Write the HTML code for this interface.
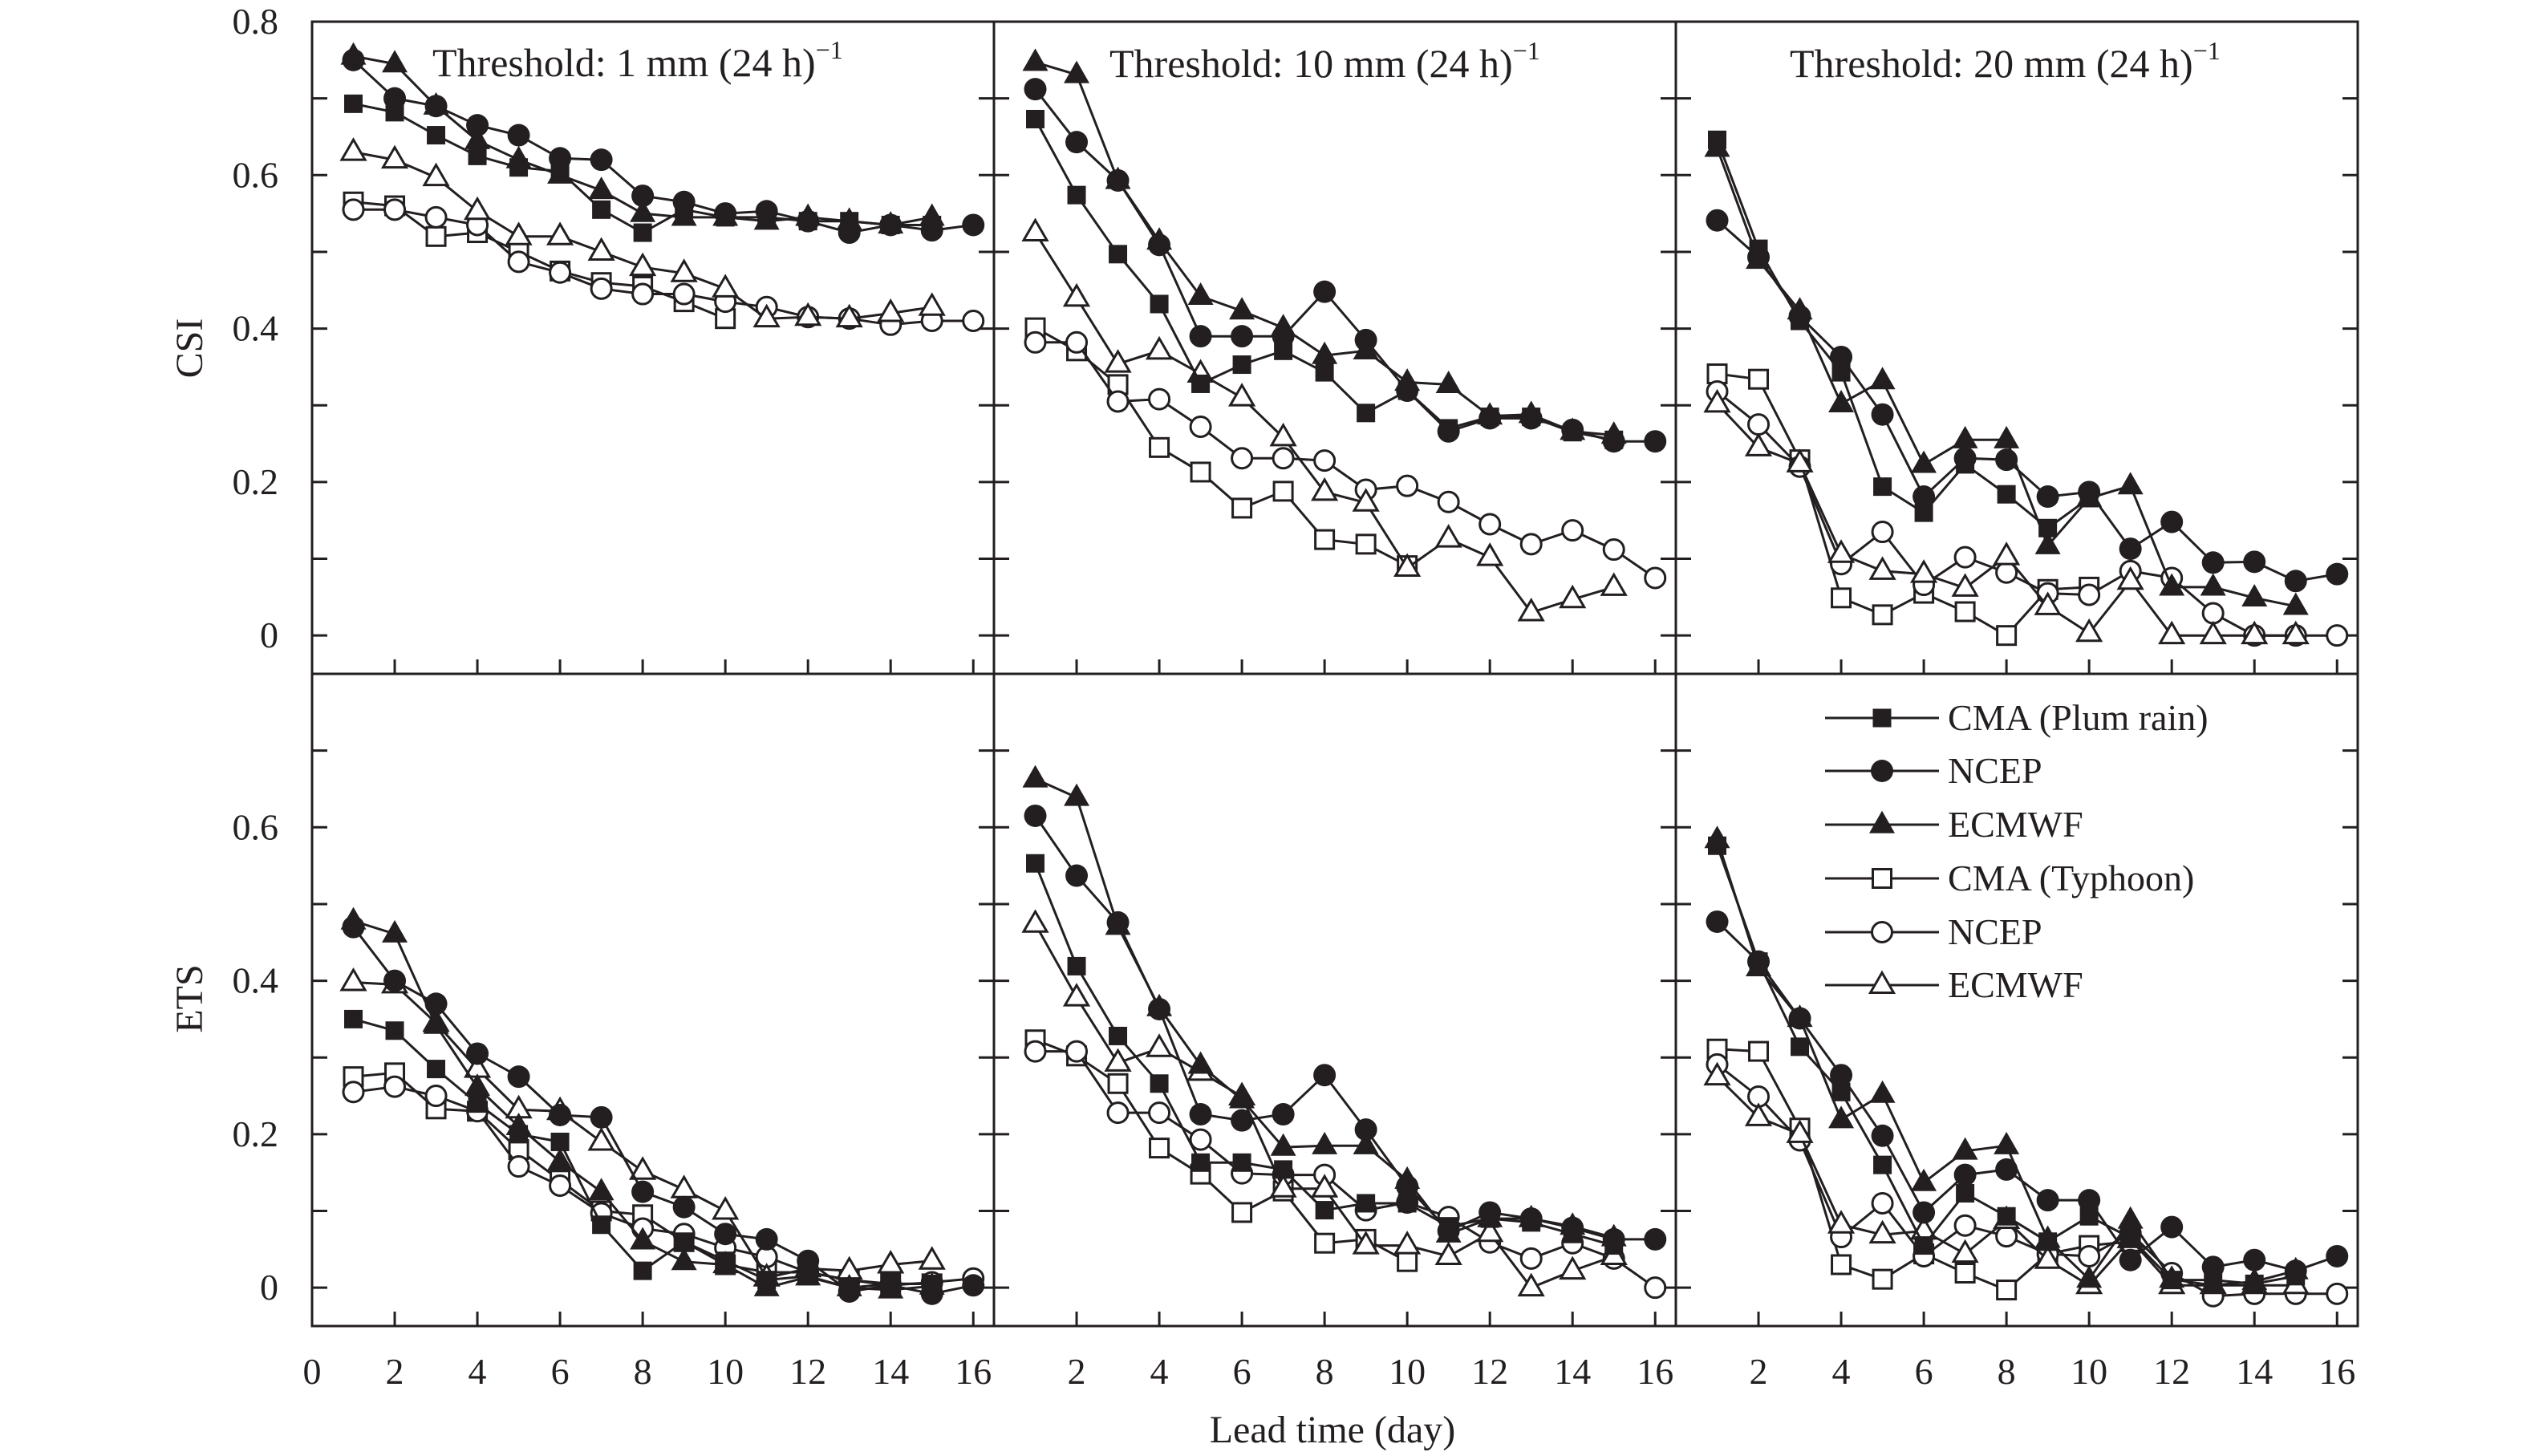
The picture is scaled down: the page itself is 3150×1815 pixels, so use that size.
<!DOCTYPE html>
<html><head><meta charset="utf-8"><style>
html,body{margin:0;padding:0;background:#fff;}
svg{display:block;}
text{font-family:"Liberation Serif",serif;fill:#231f20;}
</style></head><body>
<svg id="chart" width="3150" height="1815" viewBox="0 0 3150 1815" xmlns="http://www.w3.org/2000/svg">
<g id="axes"></g>
<g id="series"></g>
<g id="legend"></g>
<text x="0" y="0" font-size="48" text-anchor="middle" transform="translate(252,434) rotate(-90)">CSI</text>
<text x="0" y="0" font-size="48" text-anchor="middle" transform="translate(252,1245) rotate(-90)">ETS</text>
<text x="1661" y="1798" font-size="48" text-anchor="middle">Lead time (day)</text>
<text x="539" y="95" font-size="50">Threshold: 1 mm (24 h)<tspan font-size="32" dy="-22">−1</tspan></text>
<text x="1383" y="96" font-size="50">Threshold: 10 mm (24 h)<tspan font-size="32" dy="-22">−1</tspan></text>
<text x="2231" y="96" font-size="50">Threshold: 20 mm (24 h)<tspan font-size="32" dy="-22">−1</tspan></text>
</svg>
<script>
// ---- data ----
const xTickLabels = [0,2,4,6,8,10,12,14,16];
const yTickLabelsTop = [0,0.2,0.4,0.6,0.8];
const yTickLabelsBottom = [0,0.2,0.4,0.6];
const seriesNames = ["CMA (Plum rain)","NCEP","ECMWF","CMA (Typhoon)","NCEP","ECMWF"];
// CSI 1mm
const csi1_cmaPlum = [0.693,0.682,0.652,0.625,0.61,0.605,0.555,0.525,0.555,0.545,0.545,0.54,0.54,0.535,0.535];
const csi1_ncepPlum = [0.75,0.70,0.69,0.665,0.652,0.622,0.62,0.573,0.565,0.55,0.553,0.54,0.525,0.535,0.528,0.535];
const csi1_ecPlum = [0.755,0.745,0.69,0.645,0.62,0.60,0.58,0.55,0.545,0.545,0.54,0.545,0.54,0.535,0.545];
const csi1_cmaTy = [0.565,0.56,0.52,0.525,0.5,0.475,0.46,0.455,0.435,0.413];
const csi1_ncepTy = [0.555,0.555,0.545,0.535,0.487,0.473,0.452,0.445,0.445,0.435,0.428,0.415,0.413,0.405,0.41,0.41];
const csi1_ecTy = [0.63,0.62,0.597,0.553,0.52,0.52,0.5,0.48,0.472,0.452,0.413,0.415,0.413,0.42,0.428];
// CSI 10mm
const csi10_cmaPlum = [0.673,0.574,0.497,0.432,0.328,0.353,0.371,0.343,0.29,0.319,0.27,0.285,0.285,0.265,0.255];
const csi10_ncepPlum = [0.712,0.643,0.593,0.509,0.39,0.39,0.39,0.448,0.385,0.319,0.266,0.283,0.283,0.268,0.253,0.253];
const csi10_ecPlum = [0.747,0.731,0.593,0.514,0.442,0.423,0.401,0.365,0.371,0.33,0.327,0.286,0.288,0.266,0.261];
const csi10_cmaTy = [0.401,0.371,0.327,0.245,0.213,0.166,0.188,0.125,0.119,0.091];
const csi10_ncepTy = [0.382,0.382,0.305,0.308,0.272,0.231,0.231,0.228,0.19,0.195,0.174,0.145,0.119,0.137,0.112,0.075];
const csi10_ecTy = [0.525,0.44,0.354,0.371,0.341,0.31,0.258,0.187,0.173,0.088,0.126,0.102,0.03,0.047,0.063];
// CSI 20mm
const csi20_cmaPlum = [0.646,0.504,0.41,0.343,0.194,0.16,0.223,0.184,0.14,0.179];
const csi20_ncepPlum = [0.541,0.493,0.416,0.363,0.288,0.181,0.231,0.229,0.181,0.187,0.113,0.148,0.095,0.096,0.071,0.08];
const csi20_ecPlum = [0.635,0.489,0.423,0.302,0.332,0.223,0.255,0.255,0.117,0.179,0.195,0.063,0.063,0.049,0.038];
const csi20_cmaTy = [0.341,0.334,0.229,0.049,0.027,0.055,0.031,0.0,0.06,0.063];
const csi20_ncepTy = [0.318,0.275,0.22,0.093,0.135,0.066,0.102,0.082,0.055,0.053,0.084,0.075,0.029,0.0,0.0,0.0];
const csi20_ecTy = [0.302,0.245,0.224,0.106,0.084,0.08,0.062,0.103,0.038,0.003,0.071,0.0,0.0,0.0,0.0];
// ETS 1mm
const ets1_cmaPlum = [0.35,0.335,0.285,0.24,0.2,0.19,0.082,0.022,0.06,0.035,0.01,0.015,0.0,0.005,0.005];
const ets1_ncepPlum = [0.47,0.40,0.37,0.305,0.275,0.225,0.222,0.125,0.105,0.07,0.063,0.035,-0.005,0.003,-0.008,0.003];
const ets1_ecPlum = [0.478,0.461,0.342,0.261,0.21,0.164,0.125,0.061,0.034,0.03,0.0,0.014,0.0,-0.003,0.002];
const ets1_cmaTy = [0.275,0.28,0.233,0.23,0.18,0.14,0.1,0.095,0.06,0.03,0.02,0.02,0.01,0.005,0.005];
const ets1_ncepTy = [0.255,0.262,0.25,0.23,0.158,0.133,0.097,0.077,0.07,0.052,0.04,0.02,0.01,0.003,0.007,0.012];
const ets1_ecTy = [0.398,0.395,0.345,0.285,0.232,0.23,0.19,0.152,0.128,0.1,0.013,0.025,0.022,0.03,0.035];
// ETS 10mm
const ets10_cmaPlum = [0.553,0.419,0.328,0.266,0.163,0.163,0.154,0.101,0.11,0.11,0.08,0.09,0.085,0.07,0.055];
const ets10_ncepPlum = [0.615,0.537,0.476,0.363,0.226,0.218,0.226,0.277,0.206,0.132,0.074,0.098,0.09,0.078,0.063,0.063];
const ets10_ecPlum = [0.663,0.639,0.471,0.365,0.29,0.245,0.183,0.185,0.185,0.14,0.07,0.09,0.09,0.08,0.065];
const ets10_cmaTy = [0.323,0.302,0.266,0.182,0.148,0.098,0.126,0.058,0.063,0.034];
const ets10_ncepTy = [0.308,0.308,0.228,0.228,0.193,0.149,0.147,0.147,0.101,0.111,0.092,0.059,0.038,0.058,0.038,0.0];
const ets10_ecTy = [0.474,0.378,0.293,0.312,0.281,0.249,0.129,0.129,0.055,0.055,0.041,0.071,0.0,0.022,0.041];
// ETS 20mm
const ets20_cmaPlum = [0.576,0.425,0.314,0.255,0.16,0.055,0.123,0.093,0.06,0.093,0.065,0.01,0.01,0.005,0.015];
const ets20_ncepPlum = [0.477,0.425,0.351,0.277,0.198,0.098,0.147,0.154,0.114,0.114,0.036,0.079,0.027,0.036,0.022,0.041];
const ets20_ecPlum = [0.584,0.417,0.351,0.219,0.252,0.137,0.178,0.185,0.063,0.011,0.088,0.011,0.003,0.008,0.022];
const ets20_cmaTy = [0.311,0.308,0.208,0.03,0.011,0.044,0.019,-0.003,0.044,0.055,0.06];
const ets20_ncepTy = [0.291,0.249,0.192,0.066,0.11,0.041,0.081,0.067,0.044,0.041,0.071,0.019,-0.011,-0.008,-0.008,-0.008];
const ets20_ecTy = [0.275,0.222,0.2,0.082,0.069,0.074,0.044,0.088,0.036,0.003,0.063,0.003,0.003,0.003,0.003];

const panelData = [
 [csi1_cmaPlum,csi1_ncepPlum,csi1_ecPlum,csi1_cmaTy,csi1_ncepTy,csi1_ecTy],
 [csi10_cmaPlum,csi10_ncepPlum,csi10_ecPlum,csi10_cmaTy,csi10_ncepTy,csi10_ecTy],
 [csi20_cmaPlum,csi20_ncepPlum,csi20_ecPlum,csi20_cmaTy,csi20_ncepTy,csi20_ecTy],
 [ets1_cmaPlum,ets1_ncepPlum,ets1_ecPlum,ets1_cmaTy,ets1_ncepTy,ets1_ecTy],
 [ets10_cmaPlum,ets10_ncepPlum,ets10_ecPlum,ets10_cmaTy,ets10_ncepTy,ets10_ecTy],
 [ets20_cmaPlum,ets20_ncepPlum,ets20_ecPlum,ets20_cmaTy,ets20_ncepTy,ets20_ecTy]
];
const panelNames = ["csi-1mm","csi-10mm","csi-20mm","ets-1mm","ets-10mm","ets-20mm"];
const seriesKeys = ["cma-plum","ncep-plum","ecmwf-plum","cma-typhoon","ncep-typhoon","ecmwf-typhoon"];

// ---- layout ----
const NS="http://www.w3.org/2000/svg";
const PL=[389,1239,2089], PW=850;
const PT=[27,840], PH=813;
const XMAX=16.5, YMIN=-0.05, YMAX=0.8;
const C="#231f20";
function sx(p,v){return PL[p%3]+v/XMAX*PW;}
function sy(p,v){return PT[Math.floor(p/3)]+(YMAX-v)/(YMAX-YMIN)*PH;}
function mk(tag,attrs,parent){const e=document.createElementNS(NS,tag);for(const k in attrs)e.setAttribute(k,attrs[k]);parent.appendChild(e);return e;}
const axes=document.getElementById('axes'), ser=document.getElementById('series'), leg=document.getElementById('legend');

function marker(type,x,y,parent){
  const filled=type<3, shape=type%3;
  const fill=filled?C:"#fff";
  let e;
  if(shape===0){e=mk('rect',{x:x-11.5,y:y-11.5,width:23,height:23,fill:fill,stroke:C,'stroke-width':filled?0:3},parent);}
  else if(shape===1){e=mk('circle',{cx:x,cy:y,r:filled?14:12.5,fill:fill,stroke:C,'stroke-width':filled?0:3},parent);}
  else {const h=filled?28:25,w=filled?32:29;e=mk('polygon',{points:`${x},${y-h*0.62} ${x+w/2},${y+h*0.38} ${x-w/2},${y+h*0.38}`,fill:fill,stroke:C,'stroke-width':filled?0:3,'stroke-linejoin':'miter'},parent);}
  return e;
}

for(let p=0;p<6;p++){
  const x0=PL[p%3], y0=PT[Math.floor(p/3)];
  const fr=mk('rect',{x:x0,y:y0,width:PW,height:PH,fill:'none',stroke:C,'stroke-width':3},axes);
  
  
  for(let k=0;k<=7;k++){
    const v=k/10, y=sy(p,v);
    const t1=mk('line',{x1:x0,y1:y,x2:x0+19,y2:y,stroke:C,'stroke-width':3},axes);
    
    
    const t2=mk('line',{x1:x0+PW,y1:y,x2:x0+PW-19,y2:y,stroke:C,'stroke-width':3},axes);
    
    
  }
  if(p%3===0){
    (p===0?yTickLabelsTop:yTickLabelsBottom).forEach(v=>{
      const t=mk('text',{x:347,y:sy(p,v)+15,'font-size':46,'text-anchor':'end'},axes);
      t.textContent=String(v);
      
      
    });
  }
  xTickLabels.forEach(v=>{
    if(v===0)return;
    const x=sx(p,v), yb=y0+PH;
    const t=mk('line',{x1:x,y1:yb,x2:x,y2:yb-18,stroke:C,'stroke-width':3},axes);
    
    
  });
  if(p>=3){
    xTickLabels.forEach(v=>{
      if(v===0 && p!==3)return;
      const t=mk('text',{x:sx(p,v),y:1725,'font-size':46,'text-anchor':'middle'},axes);
      t.textContent=String(v);
      
      
    });
  }
  const order=[3,4,5,0,1,2];
  order.forEach(s=>{
    const vals=panelData[p][s];
    const g=mk('g',{},ser);
    
    
    const pts=vals.map((v,i)=>sx(p,i+1).toFixed(1)+','+sy(p,v).toFixed(1)).join(' ');
    const pl=mk('polyline',{points:pts,fill:'none',stroke:C,'stroke-width':3},g);
    
    
    vals.forEach((v,i)=>{
      const m=marker(s,sx(p,i+1),sy(p,v),g);
      
      
    });
  });
}
const legY=[895,961,1028,1095,1162,1228];
seriesNames.forEach((n,s)=>{
  const g=mk('g',{},leg);
  
  
  mk('line',{x1:2275,y1:legY[s],x2:2417,y2:legY[s],stroke:C,'stroke-width':3},g);
  marker(s,2346,legY[s],g);
  const t=mk('text',{x:2428,y:legY[s]+15,'font-size':46},g);
  t.textContent=n;
});
</script>
</body></html>
